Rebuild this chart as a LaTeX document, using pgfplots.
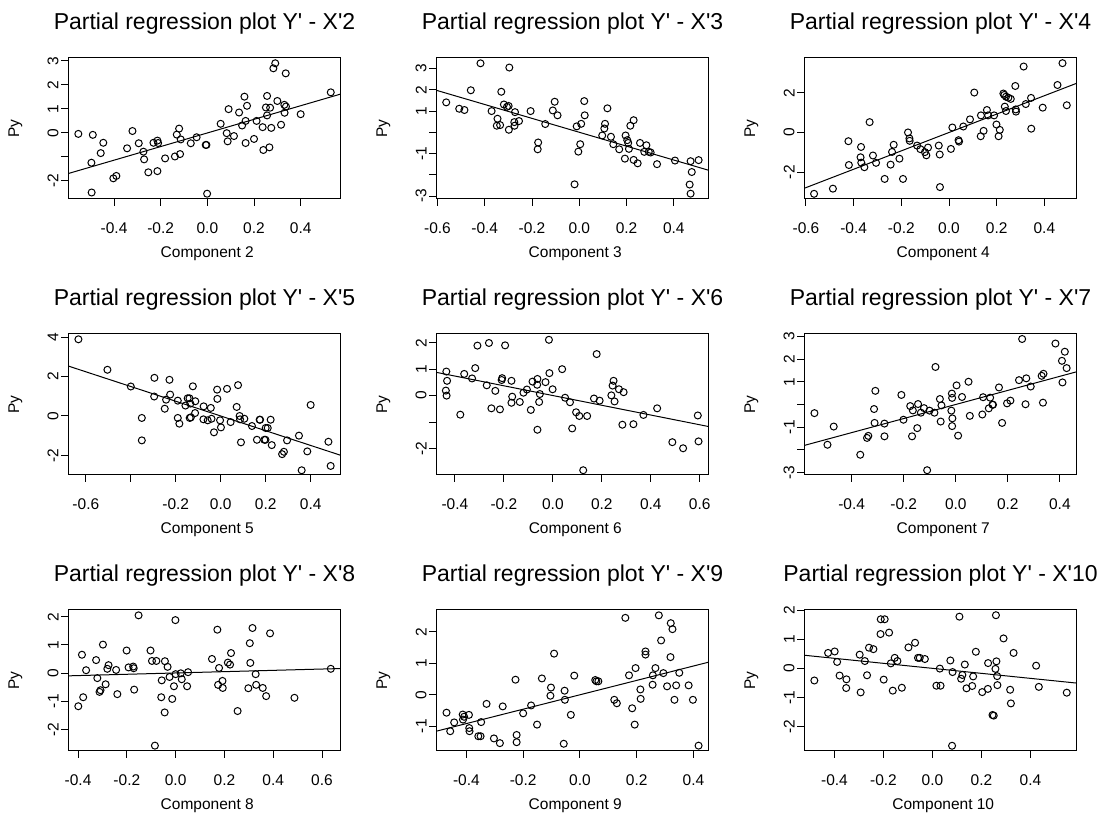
\documentclass[border=0pt]{standalone}
\usepackage{fontspec}
\setmainfont{Liberation Sans}[Ligatures=TeXOff]
\usepackage{pgfplots}
\pgfplotsset{compat=1.18}
\newcommand{\lab}{\fontsize{7.75}{9}\selectfont}
\newcommand{\ttl}{\fontsize{11.5}{13}\selectfont}
\pgfplotsset{
  rp/.style={
    scale only axis, width=136.25pt, height=70.5pt,
    anchor=south west,
    axis line style={line width=0.5pt},
    tick align=outside, major tick length=3.5pt,
    tick style={black, line width=0.5pt},
    xtick pos=bottom, ytick pos=left,
    tick label style={font=\lab, inner sep=0pt},
    yticklabel style={rotate=90, anchor=south},
    xticklabel style={anchor=north},
    xticklabel shift=8pt, yticklabel shift=1.2pt,
    xlabel style={font=\lab, at={(axis description cs:0.51,-0.39)}, anchor=center},
    ylabel style={font=\lab, at={(axis description cs:-0.1945,0.5)}, anchor=center},
    ylabel={Py},
    title style={font=\ttl, at={(axis description cs:0.5,1.16)}, anchor=center},
    scaled ticks=false,
  },
  pts/.style={only marks, mark=o, mark size=1.75pt, mark options={line width=0.5pt, black}, black},
  fit/.style={no marks, black, line width=0.5pt},
}
\begin{document}
\begin{tikzpicture}
\path[use as bounding box] (0,0) rectangle (552pt,414pt);

% ---------- Row 1 ----------
\begin{axis}[rp, at={(34.15pt,314.5pt)},
  title={Partial regression plot Y' - X'2}, xlabel={Component 2},
  xmin=-0.596, xmax=0.572, ymin=-2.75, ymax=3.12,
  xtick={-0.4,-0.2,0,0.2,0.4}, xticklabels={-0.4,-0.2,0.0,0.2,0.4},
  ytick={-2,-1,0,1,2,3}, yticklabels={-2,{},0,1,2,3}]
\addplot[pts] table {
-0.553 -0.04
-0.491 -0.08
-0.497 -1.24
-0.496 -2.48
-0.446 -0.41
-0.457 -0.84
-0.403 -1.89
-0.390 -1.79
-0.344 -0.64
-0.321 0.08
-0.294 -0.43
-0.274 -0.78
-0.271 -1.10
-0.253 -1.64
-0.231 -0.41
-0.214 -0.32
-0.211 -0.42
-0.214 -1.59
-0.181 -1.06
-0.139 -0.98
-0.131 -0.07
-0.121 0.18
-0.117 -0.88
-0.114 -0.27
-0.071 -0.43
-0.046 -0.18
-0.007 -0.50
-0.004 -0.50
-0.001 -2.53
0.057 0.38
0.083 -0.01
0.087 -0.35
0.091 0.99
0.114 -0.13
0.136 0.85
0.149 0.31
0.159 1.51
0.164 0.50
0.164 -0.42
0.170 1.13
0.200 -0.25
0.211 0.50
0.237 0.24
0.240 -0.71
0.256 1.54
0.251 1.06
0.256 0.73
0.266 -0.60
0.269 1.05
0.274 0.21
0.283 2.69
0.291 2.90
0.300 1.33
0.316 0.34
0.330 1.17
0.331 0.84
0.336 2.48
0.337 1.10
0.400 0.78
0.529 1.69
};
\addplot[fit] coordinates {(-0.596,-1.69) (0.572,1.62)};
\end{axis}

\begin{axis}[rp, at={(218.15pt,314.5pt)},
  title={Partial regression plot Y' - X'3}, xlabel={Component 3},
  xmin=-0.605, xmax=0.548, ymin=-3.14, ymax=3.50,
  xtick={-0.6,-0.4,-0.2,0,0.2,0.4}, xticklabels={-0.6,-0.4,-0.2,0.0,0.2,0.4},
  ytick={-3,-2,-1,0,1,2,3}, yticklabels={-3,{},-1,{},1,2,3}]
\addplot[pts] table {
-0.563 1.41
-0.508 1.11
-0.486 1.05
-0.459 1.98
-0.418 3.25
-0.371 1.00
-0.346 0.64
-0.349 0.31
-0.335 0.34
-0.330 1.91
-0.319 1.31
-0.306 1.20
-0.299 1.24
-0.298 0.12
-0.296 3.05
-0.272 0.95
-0.275 0.48
-0.274 0.31
-0.255 0.53
-0.206 1.00
-0.174 -0.48
-0.176 -0.80
-0.144 0.39
-0.112 1.03
-0.104 1.44
-0.092 0.80
-0.020 -2.45
-0.011 0.28
-0.004 -0.91
0.004 -0.56
0.008 0.40
0.021 1.47
0.023 0.80
0.097 -0.15
0.106 0.18
0.109 0.40
0.119 1.13
0.134 -0.21
0.144 -0.56
0.169 -0.80
0.193 -1.24
0.196 -0.15
0.203 -0.37
0.207 -0.50
0.210 -0.78
0.216 0.31
0.230 0.57
0.230 -1.30
0.247 -1.46
0.257 -0.50
0.275 -0.92
0.284 -0.61
0.294 -0.92
0.302 -0.95
0.329 -1.50
0.405 -1.33
0.471 -1.36
0.476 -1.87
0.467 -2.46
0.471 -2.89
0.505 -1.31
};
\addplot[fit] coordinates {(-0.605,1.98) (0.548,-1.79)};
\end{axis}

\begin{axis}[rp, at={(402.15pt,314.5pt)},
  title={Partial regression plot Y' - X'4}, xlabel={Component 4},
  xmin=-0.607, xmax=0.536, ymin=-3.35, ymax=3.75,
  xtick={-0.6,-0.4,-0.2,0,0.2,0.4}, xticklabels={-0.6,-0.4,-0.2,0.0,0.2,0.4},
  ytick={-2,0,2}, yticklabels={-2,0,2}]
\addplot[pts] table {
-0.566 -3.09
-0.487 -2.83
-0.420 -1.64
-0.422 -0.44
-0.369 -0.73
-0.371 -1.25
-0.368 -1.52
-0.355 -1.75
-0.333 0.52
-0.319 -1.16
-0.306 -1.53
-0.270 -2.34
-0.245 -1.62
-0.239 -0.98
-0.232 -0.62
-0.208 -1.32
-0.193 -2.34
-0.172 0.00
-0.166 -0.30
-0.165 -0.42
-0.134 -0.66
-0.120 -0.84
-0.101 -0.99
-0.095 -1.15
-0.088 -0.76
-0.043 -0.66
-0.039 -1.11
-0.038 -2.75
0.008 -0.83
0.014 0.25
0.040 -0.39
0.042 -0.46
0.060 0.30
0.088 0.66
0.106 2.01
0.133 -0.19
0.145 0.08
0.134 0.86
0.159 1.13
0.164 0.86
0.189 0.86
0.199 0.40
0.208 -0.19
0.228 1.96
0.232 1.89
0.239 1.80
0.249 1.75
0.259 1.69
0.234 1.30
0.239 1.08
0.213 0.13
0.278 2.34
0.280 1.16
0.281 1.05
0.313 3.32
0.322 1.43
0.344 1.74
0.345 0.19
0.393 1.25
0.455 2.39
0.476 3.49
0.494 1.37
};
\addplot[fit] coordinates {(-0.607,-2.81) (0.536,2.48)};
\end{axis}

% ---------- Row 2 ----------
\begin{axis}[rp, at={(34.15pt,176.5pt)},
  title={Partial regression plot Y' - X'5}, xlabel={Component 5},
  xmin=-0.678, xmax=0.534, ymin=-3.0, ymax=4.17,
  xtick={-0.6,-0.4,-0.2,0,0.2,0.4}, xticklabels={-0.6,{},-0.2,0.0,0.2,0.4},
  ytick={-2,0,2,4}, yticklabels={-2,0,2,4}]
\addplot[pts] table {
-0.633 3.90
-0.504 2.35
-0.400 1.50
-0.351 -0.10
-0.351 -1.24
-0.295 1.94
-0.296 0.99
-0.249 0.37
-0.243 0.83
-0.228 1.84
-0.225 1.09
-0.191 0.78
-0.191 -0.10
-0.184 -0.39
-0.157 0.53
-0.147 0.90
-0.139 0.90
-0.138 -0.10
-0.133 -0.07
-0.135 0.63
-0.124 1.51
-0.114 0.15
-0.113 0.75
-0.076 0.49
-0.077 -0.17
-0.058 -0.22
-0.044 0.41
-0.041 -0.14
-0.030 -0.83
-0.015 0.87
-0.016 1.34
-0.003 -0.22
0.001 -0.58
0.028 1.38
0.044 -0.31
0.071 0.46
0.077 1.57
0.084 0.00
0.086 -0.17
0.090 -1.34
0.105 -0.14
0.139 -0.51
0.161 -1.21
0.173 -0.19
0.175 -0.19
0.194 -1.21
0.199 -1.21
0.200 -0.61
0.209 -0.61
0.222 -0.19
0.227 -1.48
0.273 -1.94
0.281 -1.82
0.295 -1.24
0.348 -1.00
0.360 -2.76
0.385 -1.80
0.400 0.56
0.479 -1.31
0.489 -2.54
};
\addplot[fit] coordinates {(-0.678,2.54) (0.534,-2.00)};
\end{axis}

\begin{axis}[rp, at={(218.15pt,176.5pt)},
  title={Partial regression plot Y' - X'6}, xlabel={Component 6},
  xmin=-0.476, xmax=0.637, ymin=-3.0, ymax=2.33,
  xtick={-0.4,-0.2,0,0.2,0.4,0.6}, xticklabels={-0.4,-0.2,0.0,0.2,0.4,0.6},
  ytick={-2,-1,0,1,2}, yticklabels={-2,{},0,1,2}]
\addplot[pts] table {
-0.435 0.91
-0.432 0.56
-0.437 0.19
-0.434 0.00
-0.378 -0.72
-0.362 0.82
-0.330 0.65
-0.317 1.04
-0.308 1.89
-0.270 0.39
-0.261 1.99
-0.251 -0.48
-0.235 0.18
-0.216 -0.52
-0.209 0.59
-0.207 0.66
-0.195 1.90
-0.169 0.56
-0.166 -0.04
-0.169 -0.27
-0.135 -0.24
-0.120 0.11
-0.106 0.23
-0.090 -0.54
-0.083 0.53
-0.063 0.63
-0.064 0.41
-0.063 -1.29
-0.056 -0.24
-0.053 0.06
-0.030 0.51
-0.014 0.85
-0.016 2.11
-0.001 0.24
0.050 -0.08
0.038 1.00
0.070 -0.25
0.079 -1.24
0.095 -0.63
0.108 -0.77
0.140 -0.77
0.168 -0.11
0.179 1.57
0.191 -0.19
0.124 -2.82
0.239 0.01
0.244 0.38
0.248 0.56
0.252 -0.22
0.270 0.24
0.284 -1.10
0.289 0.13
0.329 -1.08
0.370 -0.73
0.426 -0.48
0.488 -1.76
0.532 -1.99
0.592 -0.75
0.595 -1.73
};
\addplot[fit] coordinates {(-0.476,0.88) (0.637,-1.17)};
\end{axis}

\begin{axis}[rp, at={(402.15pt,176.5pt)},
  title={Partial regression plot Y' - X'7}, xlabel={Component 7},
  xmin=-0.582, xmax=0.465, ymin=-3.1, ymax=3.1,
  xtick={-0.4,-0.2,0,0.2,0.4}, xticklabels={-0.4,-0.2,0.0,0.2,0.4},
  ytick={-3,-2,-1,0,1,2,3}, yticklabels={-3,{},-1,{},1,2,3}]
\addplot[pts] table {
-0.543 -0.38
-0.493 -1.77
-0.469 -0.97
-0.367 -2.21
-0.341 -1.47
-0.336 -1.38
-0.314 -0.20
-0.309 0.60
-0.312 -0.81
-0.274 -0.84
-0.274 -1.40
-0.209 0.42
-0.201 -0.67
-0.175 -0.07
-0.168 -1.40
-0.165 -0.26
-0.148 -1.04
-0.145 0.02
-0.134 -0.36
-0.122 -0.16
-0.101 -0.27
-0.082 -0.36
-0.110 -2.89
-0.078 1.65
-0.061 0.24
-0.055 -0.04
-0.058 -0.75
-0.017 -0.27
-0.014 0.29
-0.015 0.48
0.003 0.84
-0.013 -0.61
-0.014 -0.95
0.009 -1.37
0.024 0.33
0.049 1.00
0.054 -0.50
0.102 -0.44
0.105 0.32
0.127 -0.17
0.132 0.30
0.141 -0.01
0.143 -0.01
0.166 0.75
0.178 -0.81
0.197 0.05
0.210 0.17
0.243 1.07
0.255 2.88
0.268 0.01
0.271 1.15
0.288 0.79
0.330 1.26
0.337 1.35
0.335 0.08
0.383 2.68
0.408 1.92
0.419 2.32
0.426 1.60
0.410 0.97
};
\addplot[fit] coordinates {(-0.582,-1.80) (0.465,1.44)};
\end{axis}

% ---------- Row 3 ----------
\begin{axis}[rp, at={(34.15pt,38.5pt)},
  title={Partial regression plot Y' - X'8}, xlabel={Component 8},
  xmin=-0.440, xmax=0.677, ymin=-2.77, ymax=2.24,
  xtick={-0.4,-0.2,0,0.2,0.4,0.6}, xticklabels={-0.4,-0.2,0.0,0.2,0.4,0.6},
  ytick={-2,-1,0,1,2}, yticklabels={-2,-1,0,1,2}]
\addplot[pts] table {
-0.399 -1.18
-0.384 0.65
-0.379 -0.86
-0.367 0.10
-0.326 0.46
-0.321 -0.18
-0.312 -0.67
-0.308 -0.61
-0.298 1.01
-0.287 -0.40
-0.280 0.15
-0.275 0.28
-0.244 0.11
-0.239 -0.75
-0.201 0.80
-0.193 0.20
-0.174 0.23
-0.172 0.17
-0.170 -0.59
-0.152 2.05
-0.103 0.80
-0.097 0.43
-0.079 0.43
-0.057 -0.26
-0.059 -0.86
-0.044 0.42
-0.045 -1.40
-0.033 0.22
-0.025 -0.14
-0.085 -2.58
-0.014 -0.92
-0.007 -0.47
-0.001 1.88
0.000 -0.04
0.021 -0.01
0.025 -0.22
0.047 -0.47
0.051 0.03
0.149 0.50
0.171 1.54
0.174 -0.42
0.178 0.18
0.192 -0.28
0.193 -0.53
0.214 0.37
0.223 0.30
0.227 0.71
0.254 -1.35
0.298 -0.54
0.304 1.06
0.306 0.36
0.315 1.60
0.328 -0.04
0.330 -0.42
0.357 -0.53
0.371 -0.82
0.387 1.41
0.487 -0.88
0.636 0.15
};
\addplot[fit] coordinates {(-0.440,-0.10) (0.677,0.16)};
\end{axis}

\begin{axis}[rp, at={(218.15pt,38.5pt)},
  title={Partial regression plot Y' - X'9}, xlabel={Component 9},
  xmin=-0.506, xmax=0.454, ymin=-1.79, ymax=2.70,
  xtick={-0.4,-0.2,0,0.2,0.4}, xticklabels={-0.4,-0.2,0.0,0.2,0.4},
  ytick={-1,0,1,2}, yticklabels={-1,0,1,2}]
\addplot[pts] table {
-0.470 -0.57
-0.457 -1.16
-0.443 -0.88
-0.413 -0.63
-0.412 -0.79
-0.408 -0.70
-0.389 -1.16
-0.390 -1.06
-0.391 -0.64
-0.358 -1.32
-0.350 -1.32
-0.348 -0.87
-0.329 -0.29
-0.303 -1.39
-0.282 -1.54
-0.272 -0.37
-0.227 0.48
-0.223 -1.28
-0.223 -1.51
-0.200 -0.59
-0.172 -0.34
-0.151 -0.95
-0.134 0.52
-0.102 0.23
-0.104 -0.03
-0.091 1.31
-0.053 -0.16
-0.054 0.13
-0.057 -1.56
-0.032 -0.64
-0.020 0.61
0.054 0.47
0.058 0.43
0.065 0.43
0.121 -0.16
0.130 -0.27
0.160 2.45
0.173 0.62
0.184 -0.43
0.193 -0.95
0.196 0.85
0.213 0.17
0.214 -0.13
0.231 1.38
0.231 1.28
0.257 0.62
0.256 0.32
0.266 0.85
0.278 2.53
0.286 1.73
0.294 0.69
0.307 0.27
0.319 1.20
0.326 2.09
0.320 2.28
0.333 -0.16
0.339 0.30
0.350 0.70
0.383 0.30
0.398 -0.16
0.418 -1.62
};
\addplot[fit] coordinates {(-0.506,-1.16) (0.454,1.04)};
\end{axis}

\begin{axis}[rp, at={(402.15pt,38.5pt)},
  title={Partial regression plot Y' - X'10}, xlabel={Component 10},
  xmin=-0.523, xmax=0.589, ymin=-2.85, ymax=2.01,
  xtick={-0.4,-0.2,0,0.2,0.4}, xticklabels={-0.4,-0.2,0.0,0.2,0.4},
  ytick={-2,-1,0,1,2}, yticklabels={-2,-1,0,1,2}]
\addplot[pts] table {
-0.482 -0.42
-0.426 0.53
-0.399 0.58
-0.389 0.22
-0.379 -0.25
-0.351 -0.38
-0.352 -0.68
-0.297 0.47
-0.293 -0.83
-0.276 0.25
-0.267 -0.24
-0.259 0.71
-0.241 0.66
-0.212 1.18
-0.211 1.69
-0.195 1.69
-0.199 -0.39
-0.177 1.23
-0.170 0.17
-0.154 0.36
-0.162 -0.77
-0.143 0.25
-0.125 -0.67
-0.098 0.72
-0.071 0.88
-0.059 0.36
-0.052 0.36
-0.031 0.32
0.016 -0.60
0.033 -0.60
0.030 -0.01
0.073 0.27
0.082 -0.13
0.110 1.78
0.117 -0.36
0.122 -0.23
0.132 0.13
0.139 -0.69
0.162 -0.61
0.166 -0.28
0.177 0.57
0.203 -0.82
0.226 -0.71
0.227 0.18
0.245 -1.61
0.250 -1.63
0.259 1.83
0.257 -0.02
0.261 0.24
0.264 -0.27
0.265 -0.58
0.290 1.03
0.317 -0.74
0.320 -1.21
0.331 0.53
0.423 0.09
0.434 -0.64
0.548 -0.84
0.080 -2.67
};
\addplot[fit] coordinates {(-0.523,0.45) (0.589,-0.51)};
\end{axis}
\end{tikzpicture}
\end{document}
